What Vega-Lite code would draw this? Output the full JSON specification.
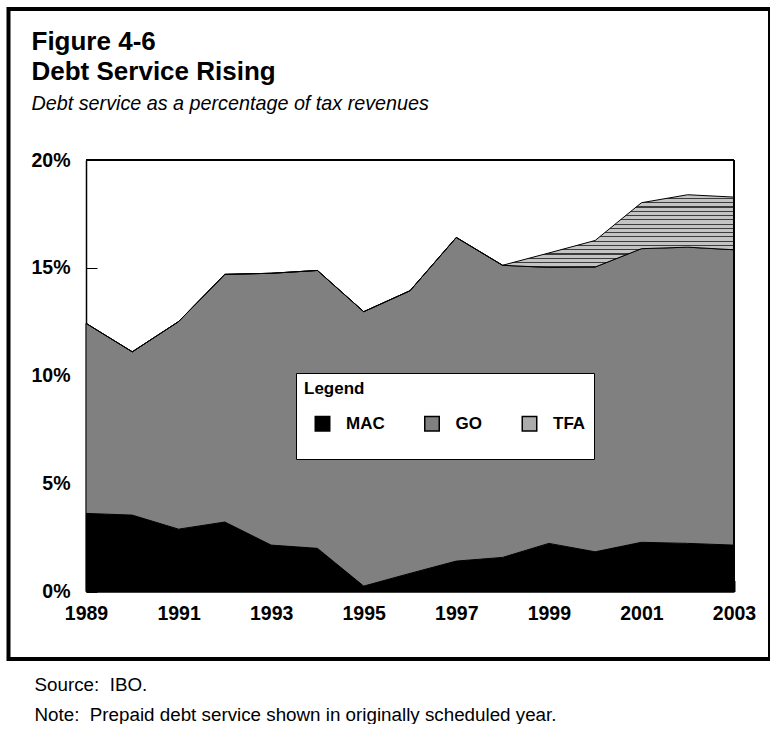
{
  "$schema": "https://vega.github.io/schema/vega-lite/v6.json",
  "width": 761.5,
  "height": 650,
  "padding": {"left": 8.5, "top": 9, "right": 0, "bottom": 0},
  "autosize": {"type": "pad"},
  "background": "white",
  "title": {
    "text": ["Figure 4-6", "Debt Service Rising"],
    "subtitle": "Debt service as a percentage of tax revenues",
    "anchor": "start",
    "frame": "group",
    "offset": -105,
    "dx": 23,
    "fontSize": 26,
    "fontWeight": "bold",
    "lineHeight": 30,
    "color": "black",
    "font": "Liberation Sans",
    "subtitleFont": "Liberation Sans",
    "subtitleFontSize": 19.75,
    "subtitleFontStyle": "italic",
    "subtitleColor": "black",
    "subtitlePadding": 9
  },
  "data": {
    "values": [
      {"year": 1989, "series": "MAC", "rank": 1, "value": 3.62},
      {"year": 1989, "series": "GO", "rank": 2, "value": 8.81},
      {"year": 1989, "series": "TFA", "rank": 3, "value": 0},
      {"year": 1990, "series": "MAC", "rank": 1, "value": 3.54},
      {"year": 1990, "series": "GO", "rank": 2, "value": 7.57},
      {"year": 1990, "series": "TFA", "rank": 3, "value": 0},
      {"year": 1991, "series": "MAC", "rank": 1, "value": 2.89},
      {"year": 1991, "series": "GO", "rank": 2, "value": 9.62},
      {"year": 1991, "series": "TFA", "rank": 3, "value": 0},
      {"year": 1992, "series": "MAC", "rank": 1, "value": 3.22},
      {"year": 1992, "series": "GO", "rank": 2, "value": 11.48},
      {"year": 1992, "series": "TFA", "rank": 3, "value": 0},
      {"year": 1993, "series": "MAC", "rank": 1, "value": 2.15},
      {"year": 1993, "series": "GO", "rank": 2, "value": 12.6},
      {"year": 1993, "series": "TFA", "rank": 3, "value": 0},
      {"year": 1994, "series": "MAC", "rank": 1, "value": 2.0},
      {"year": 1994, "series": "GO", "rank": 2, "value": 12.88},
      {"year": 1994, "series": "TFA", "rank": 3, "value": 0},
      {"year": 1995, "series": "MAC", "rank": 1, "value": 0.25},
      {"year": 1995, "series": "GO", "rank": 2, "value": 12.72},
      {"year": 1995, "series": "TFA", "rank": 3, "value": 0},
      {"year": 1996, "series": "MAC", "rank": 1, "value": 0.84},
      {"year": 1996, "series": "GO", "rank": 2, "value": 13.1},
      {"year": 1996, "series": "TFA", "rank": 3, "value": 0},
      {"year": 1997, "series": "MAC", "rank": 1, "value": 1.41},
      {"year": 1997, "series": "GO", "rank": 2, "value": 15.0},
      {"year": 1997, "series": "TFA", "rank": 3, "value": 0},
      {"year": 1998, "series": "MAC", "rank": 1, "value": 1.58},
      {"year": 1998, "series": "GO", "rank": 2, "value": 13.54},
      {"year": 1998, "series": "TFA", "rank": 3, "value": 0},
      {"year": 1999, "series": "MAC", "rank": 1, "value": 2.23},
      {"year": 1999, "series": "GO", "rank": 2, "value": 12.79},
      {"year": 1999, "series": "TFA", "rank": 3, "value": 0.67},
      {"year": 2000, "series": "MAC", "rank": 1, "value": 1.84},
      {"year": 2000, "series": "GO", "rank": 2, "value": 13.2},
      {"year": 2000, "series": "TFA", "rank": 3, "value": 1.23},
      {"year": 2001, "series": "MAC", "rank": 1, "value": 2.28},
      {"year": 2001, "series": "GO", "rank": 2, "value": 13.61},
      {"year": 2001, "series": "TFA", "rank": 3, "value": 2.13},
      {"year": 2002, "series": "MAC", "rank": 1, "value": 2.23},
      {"year": 2002, "series": "GO", "rank": 2, "value": 13.73},
      {"year": 2002, "series": "TFA", "rank": 3, "value": 2.43},
      {"year": 2003, "series": "MAC", "rank": 1, "value": 2.15},
      {"year": 2003, "series": "GO", "rank": 2, "value": 13.69},
      {"year": 2003, "series": "TFA", "rank": 3, "value": 2.44}
    ]
  },
  "layer": [
    {
      "mark": {"type": "area", "stroke": "black", "strokeWidth": 1, "opacity": 1},
      "encoding": {
        "x": {
          "field": "year",
          "type": "quantitative",
          "scale": {"domain": [1989, 2003], "range": [77.5, 725.5], "nice": false, "zero": false},
          "axis": {
            "orient": "bottom",
            "offset": -67.5,
            "values": [1989, 1991, 1993, 1995, 1997, 1999, 2001, 2003],
            "format": "d",
            "labelFontSize": 19.5,
            "labelFontWeight": "bold",
            "labelPadding": 24,
            "tickSize": -11,
            "labelFlush": false,
            "labelOverlap": false,
            "title": ["Source:\u00a0 IBO.", "Note:\u00a0 Prepaid debt service shown in originally scheduled year."],
            "titleFontSize": 18.8,
            "titleFontWeight": "normal",
            "titleColor": "black",
            "titleAlign": "left",
            "titleBaseline": "alphabetic",
            "titleX": 25.5,
            "titleY": 98.5,
            "titleLineHeight": 30
          }
        },
        "y": {
          "field": "value",
          "type": "quantitative",
          "stack": "zero",
          "scale": {"domain": [0, 20], "range": [582.5, 151], "nice": false},
          "axis": {
            "orient": "left",
            "offset": -77.5,
            "values": [0, 5, 10, 15, 20],
            "labelExpr": "datum.value + '%'",
            "labelFontSize": 19.5,
            "labelFontWeight": "bold",
            "labelPadding": 27,
            "tickSize": -11,
            "title": null
          }
        },
        "color": {
          "condition": {
            "test": "datum.series === 'TFA'",
            "value": {
              "gradient": "linear",
              "x1": 0, "y1": 0, "x2": 0, "y2": 1,
              "stops": [
                {"offset": 0, "color": "#c4c4c4"}, {"offset": 0.02, "color": "#c4c4c4"}, {"offset": 0.02, "color": "#3c3c3c"}, {"offset": 0.0272, "color": "#3c3c3c"},
                {"offset": 0.0272, "color": "#c4c4c4"}, {"offset": 0.0472, "color": "#c4c4c4"}, {"offset": 0.0472, "color": "#3c3c3c"}, {"offset": 0.0544, "color": "#3c3c3c"},
                {"offset": 0.0544, "color": "#c4c4c4"}, {"offset": 0.0744, "color": "#c4c4c4"}, {"offset": 0.0744, "color": "#3c3c3c"}, {"offset": 0.0816, "color": "#3c3c3c"},
                {"offset": 0.0816, "color": "#c4c4c4"}, {"offset": 0.1016, "color": "#c4c4c4"}, {"offset": 0.1016, "color": "#3c3c3c"}, {"offset": 0.1088, "color": "#3c3c3c"},
                {"offset": 0.1088, "color": "#c4c4c4"}, {"offset": 0.1288, "color": "#c4c4c4"}, {"offset": 0.1288, "color": "#3c3c3c"}, {"offset": 0.136, "color": "#3c3c3c"},
                {"offset": 0.136, "color": "#c4c4c4"}, {"offset": 0.156, "color": "#c4c4c4"}, {"offset": 0.156, "color": "#3c3c3c"}, {"offset": 0.1632, "color": "#3c3c3c"},
                {"offset": 0.1632, "color": "#c4c4c4"}, {"offset": 0.1832, "color": "#c4c4c4"}, {"offset": 0.1832, "color": "#3c3c3c"}, {"offset": 0.1904, "color": "#3c3c3c"},
                {"offset": 0.1904, "color": "#c4c4c4"}, {"offset": 0.2104, "color": "#c4c4c4"}, {"offset": 0.2104, "color": "#3c3c3c"}, {"offset": 0.2176, "color": "#3c3c3c"},
                {"offset": 0.2176, "color": "#c4c4c4"}, {"offset": 0.2376, "color": "#c4c4c4"}, {"offset": 0.2376, "color": "#3c3c3c"}, {"offset": 0.2448, "color": "#3c3c3c"},
                {"offset": 0.2448, "color": "#c4c4c4"}, {"offset": 0.2648, "color": "#c4c4c4"}, {"offset": 0.2648, "color": "#3c3c3c"}, {"offset": 0.272, "color": "#3c3c3c"},
                {"offset": 0.272, "color": "#c4c4c4"}, {"offset": 0.292, "color": "#c4c4c4"}, {"offset": 0.292, "color": "#3c3c3c"}, {"offset": 0.2992, "color": "#3c3c3c"},
                {"offset": 0.2992, "color": "#c4c4c4"}, {"offset": 0.3192, "color": "#c4c4c4"}, {"offset": 0.3192, "color": "#3c3c3c"}, {"offset": 0.3264, "color": "#3c3c3c"},
                {"offset": 0.3264, "color": "#c4c4c4"}, {"offset": 0.3464, "color": "#c4c4c4"}, {"offset": 0.3464, "color": "#3c3c3c"}, {"offset": 0.3536, "color": "#3c3c3c"},
                {"offset": 0.3536, "color": "#c4c4c4"}, {"offset": 0.3736, "color": "#c4c4c4"}, {"offset": 0.3736, "color": "#3c3c3c"}, {"offset": 0.3808, "color": "#3c3c3c"},
                {"offset": 0.3808, "color": "#c4c4c4"}, {"offset": 0.4008, "color": "#c4c4c4"}, {"offset": 0.4008, "color": "#3c3c3c"}, {"offset": 0.408, "color": "#3c3c3c"},
                {"offset": 0.408, "color": "#c4c4c4"}, {"offset": 0.428, "color": "#c4c4c4"}, {"offset": 0.428, "color": "#3c3c3c"}, {"offset": 0.4352, "color": "#3c3c3c"},
                {"offset": 0.4352, "color": "#c4c4c4"}, {"offset": 0.4552, "color": "#c4c4c4"}, {"offset": 0.4552, "color": "#3c3c3c"}, {"offset": 0.4624, "color": "#3c3c3c"},
                {"offset": 0.4624, "color": "#c4c4c4"}, {"offset": 0.4824, "color": "#c4c4c4"}, {"offset": 0.4824, "color": "#3c3c3c"}, {"offset": 0.4896, "color": "#3c3c3c"},
                {"offset": 0.4896, "color": "#c4c4c4"}, {"offset": 0.5096, "color": "#c4c4c4"}, {"offset": 0.5096, "color": "#3c3c3c"}, {"offset": 0.5168, "color": "#3c3c3c"},
                {"offset": 0.5168, "color": "#c4c4c4"}, {"offset": 1, "color": "#c4c4c4"}
              ]
            }
          },
          "field": "series",
          "type": "nominal",
          "scale": {"domain": ["MAC", "GO", "TFA"], "range": ["#000000", "#808080", "#ababab"]},
          "legend": {
            "orient": "none",
            "legendX": 287.5,
            "legendY": 364,
            "direction": "horizontal",
            "title": "Legend",
            "titleOrient": "top",
            "titleAnchor": "start",
            "titleFontSize": 17,
            "titleFontWeight": "bold",
            "titleColor": "black",
            "titlePadding": 17,
            "labelFontSize": 17,
            "labelFontWeight": "bold",
            "labelColor": "black",
            "labelExpr": "[datum.label, '']",
            "labelLineHeight": 15,
            "labelBaseline": "middle",
            "labelOffset": 15,
            "symbolType": "square",
            "symbolSize": 210,
            "symbolStrokeColor": "black",
            "symbolStrokeWidth": 1.5,
            "symbolOffset": 10,
            "columnPadding": 28.5,
            "padding": 8,
            "fillColor": "white",
            "strokeColor": "black"
          }
        },
        "order": {"field": "rank", "type": "quantitative"}
      }
    },
    {
      "mark": {"type": "rule", "color": "black", "strokeWidth": 1.5},
      "encoding": {"y": {"datum": 20}, "x": {"datum": 1989}, "x2": {"datum": 2003}}
    },
    {
      "mark": {"type": "rule", "color": "black", "strokeWidth": 1.5},
      "encoding": {"x": {"datum": 2003}, "y": {"datum": 0}, "y2": {"datum": 20}}
    }
  ],
  "view": {"stroke": "black", "strokeWidth": 4},
  "config": {
    "font": "Liberation Sans",
    "axis": {
      "labelColor": "black",
      "domainColor": "black",
      "domainWidth": 1.5,
      "tickColor": "black",
      "tickWidth": 1,
      "grid": false,
      "labelFont": "Liberation Sans",
      "titleFont": "Liberation Sans"
    },
    "legend": {"labelFont": "Liberation Sans", "titleFont": "Liberation Sans"}
  }
}
